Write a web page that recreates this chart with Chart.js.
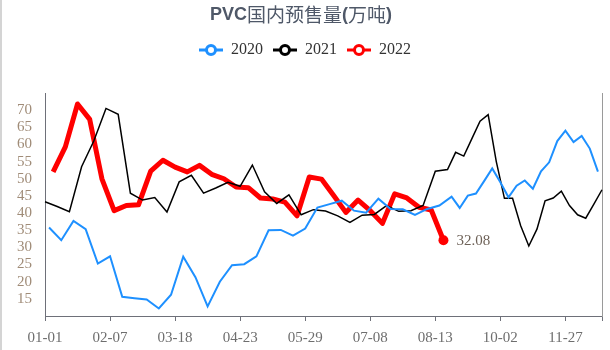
<!DOCTYPE html>
<html>
<head>
<meta charset="utf-8">
<script src="https://cdn.jsdelivr.net/npm/chart.js@4/dist/chart.umd.min.js"></script>
<style>
  body { margin: 0; background: #fff; }
</style>
</head>
<body>
<canvas id="myChart" width="610" height="350"></canvas>
<script>
// weekly presale data, one array per year
const values2020 = [
  35.8, 32.1, 37.7, 35.3, 25.3, 27.4, 15.6, 15.2, 14.8, 12.2,
  16.2, 27.3, 21.3, 12.8, 20.0, 24.8, 25.1, 27.4, 35.0, 35.1,
  33.4, 35.5, 41.6, 42.6, 43.6, 40.7, 40.1, 44.2, 41.2, 41.1,
  39.5, 41.2, 42.2, 44.8, 41.5, 45.1, 45.7, 49.3, 53.0, 49.0,
  44.6, 48.0, 49.5, 47.1, 52.2, 54.8, 61.0, 64.0, 60.7, 62.5,
  58.8, 52.1
];
const values2021 = [
  43.3, 41.9, 40.4, 53.5, 61.0, 70.5, 68.8, 45.8, 43.8, 44.5,
  40.3, 49.1, 51.0, 45.8, 47.3, 49.0, 47.8, 54.0, 46.2, 42.8,
  45.3, 39.5, 41.0, 40.6, 39.2, 37.3, 39.4, 39.6, 42.2, 40.5,
  40.7, 42.2, 52.2, 52.7, 57.7, 56.6, 61.7, 66.8, 68.7, 55.0,
  44.3, 44.3, 36.3, 30.4, 35.3, 43.6, 44.4, 46.4, 42.2, 39.5,
  38.5, 42.6, 46.8
];
const values2022 = [
  52.0, 59.3, 71.8, 67.3, 50.0, 40.7, 42.2, 42.4, 52.2, 55.4,
  53.4, 52.0, 53.9, 51.3, 50.0, 47.6, 47.4, 44.4, 44.1, 43.2,
  39.2, 50.5, 49.9, 45.1, 40.2, 43.8, 40.7, 37.0, 45.6, 44.4,
  41.7, 40.9, 32.08
];

// every friday of each year (first friday, number of weeks)
function weekDates(year, firstDay, count) {
  const out = [];
  for (let i = 0; i < count; i++) {
    const d = new Date(Date.UTC(year, 0, firstDay + i * 7));
    out.push(String(d.getUTCMonth() + 1).padStart(2, "0") + "-" + String(d.getUTCDate()).padStart(2, "0"));
  }
  return out;
}
const dates2020 = weekDates(2020, 3, values2020.length);
const dates2021 = weekDates(2021, 1, values2021.length);
const dates2022 = weekDates(2022, 7, values2022.length);

// x axis = all dates of the three years, month-day order
const categories = [...new Set([...dates2020, ...dates2021, ...dates2022])].sort();
const tickLabels = ["01-01", "02-07", "03-18", "04-23", "05-29", "07-08", "08-13", "10-02", "11-27"];

const seriesNames = ["2020", "2021", "2022"];
const seriesColors = ["#1e90ff", "#000000", "#ff0000"];

function toPoints(dates, values) {
  return values.map((v, i) => ({ x: dates[i], y: v }));
}

function legendIcon(color) {
  const c = document.createElement("canvas");
  c.width = 24;
  c.height = 14;
  const g = c.getContext("2d");
  g.strokeStyle = color;
  g.lineWidth = 3;
  g.beginPath();
  g.moveTo(0, 7);
  g.lineTo(24, 7);
  g.stroke();
  g.beginPath();
  g.arc(12, 7, 4.5, 0, Math.PI * 2);
  g.fillStyle = "#fff";
  g.fill();
  g.stroke();
  return c;
}
const icons = seriesColors.map(legendIcon);

const lastIdx = values2022.length - 1;

const titlePlugin = {
  id: "titleDraw",
  beforeInit(chart) {
    const fit = chart.legend.fit;
    chart.legend.fit = function () {
      fit.bind(chart.legend)();
      this.height += 25;
    };
  },
  afterDraw(chart) {
    const ctx = chart.ctx;
    const parts = [
      ["PVC", "bold 18px 'Liberation Sans'"],
      ["国内预售量", "19px 'Noto Sans CJK SC'"],
      ["(", "bold 18px 'Liberation Sans'"],
      ["万吨", "19px 'Noto Sans CJK SC'"],
      [")", "bold 18px 'Liberation Sans'"],
    ];
    ctx.save();
    let total = 0;
    for (const p of parts) {
      ctx.font = p[1];
      total += ctx.measureText(p[0]).width;
    }
    let x = 301 - total / 2;
    ctx.fillStyle = "#4f5868";
    ctx.textBaseline = "middle";
    ctx.textAlign = "left";
    for (const p of parts) {
      ctx.font = p[1];
      ctx.fillText(p[0], x, 15);
      x += ctx.measureText(p[0]).width;
    }
    // end value label of 2022
    const pt = chart.getDatasetMeta(2).data[lastIdx];
    ctx.font = "15px 'Liberation Serif'";
    ctx.fillStyle = "#6e6258";
    ctx.fillText(String(values2022[lastIdx]), pt.x + 13, pt.y + 1);
    // page edge
    ctx.strokeStyle = "#d4d4d4";
    ctx.lineWidth = 2;
    ctx.beginPath();
    ctx.moveTo(1, 0);
    ctx.lineTo(1, 350);
    ctx.stroke();
    ctx.restore();
  },
};

const ctx = document.getElementById("myChart").getContext("2d");
const myChart = new Chart(ctx, {
  type: "line",
  data: {
    labels: categories,
    datasets: [
      {
        label: seriesNames[0],
        data: toPoints(dates2020, values2020),
        borderColor: seriesColors[0],
        backgroundColor: seriesColors[0],
        borderWidth: 2,
        pointRadius: 0,
      },
      {
        label: seriesNames[1],
        data: toPoints(dates2021, values2021),
        borderColor: seriesColors[1],
        backgroundColor: seriesColors[1],
        borderWidth: 1.5,
        pointRadius: 0,
      },
      {
        label: seriesNames[2],
        data: toPoints(dates2022, values2022),
        borderColor: seriesColors[2],
        backgroundColor: seriesColors[2],
        borderWidth: 5,
        borderJoinStyle: "round",
        pointRadius: (c) => (c.dataIndex === lastIdx ? 5 : 0),
        pointBorderWidth: 0,
        pointBackgroundColor: seriesColors[2],
      },
    ],
  },
  options: {
    responsive: false,
    animation: false,
    devicePixelRatio: 1,
    layout: { padding: { top: 32, left: 0, right: 0, bottom: 0 } },
    plugins: {
      title: { display: false },
      tooltip: { enabled: false },
      legend: {
        display: true,
        position: "top",
        labels: {
          usePointStyle: true,
          pointStyleWidth: 24,
          padding: 10,
          color: "#333",
          font: { family: "'Liberation Serif'", size: 16 },
          generateLabels(chart) {
            const items = Chart.defaults.plugins.legend.labels.generateLabels(chart);
            items.forEach((it, i) => {
              it.pointStyle = icons[i];
            });
            return items;
          },
        },
      },
    },
    scales: {
      x: {
        type: "category",
        offset: false,
        grid: {
          drawOnChartArea: false,
          drawTicks: true,
          tickLength: 5,
          color: "#6e7079",
        },
        border: { display: true, color: "#6e7079" },
        ticks: {
          autoSkip: false,
          maxRotation: 0,
          padding: 8,
          color: "#6e6e6e",
          font: { family: "'Liberation Serif'", size: 15 },
          callback(val, idx) {
            const l = this.getLabelForValue(val);
            if (tickLabels.includes(l)) return l;
            return idx === categories.length - 1 ? "" : null;
          },
        },
        afterFit(s) {
          s.height = 34;
        },
      },
      y: {
        position: "left",
        min: 10,
        max: 75,
        grid: { display: false, drawTicks: false },
        border: { display: true, color: "#6e7079" },
        ticks: {
          stepSize: 5,
          autoSkip: false,
          padding: 13,
          color: "#a08c78",
          font: { family: "'Liberation Serif'", size: 15 },
          callback: (v) => (v === 10 || v === 75 ? "" : v),
        },
        afterFit(s) {
          s.width = 45;
        },
      },
      y2: {
        position: "right",
        min: 10,
        max: 75,
        grid: { display: false, drawTicks: false },
        border: { display: true, color: "#9a9a9a" },
        ticks: { display: false },
        afterFit(s) {
          s.width = 5;
        },
      },
    },
  },
  plugins: [titlePlugin],
});
</script>
</body>
</html>
